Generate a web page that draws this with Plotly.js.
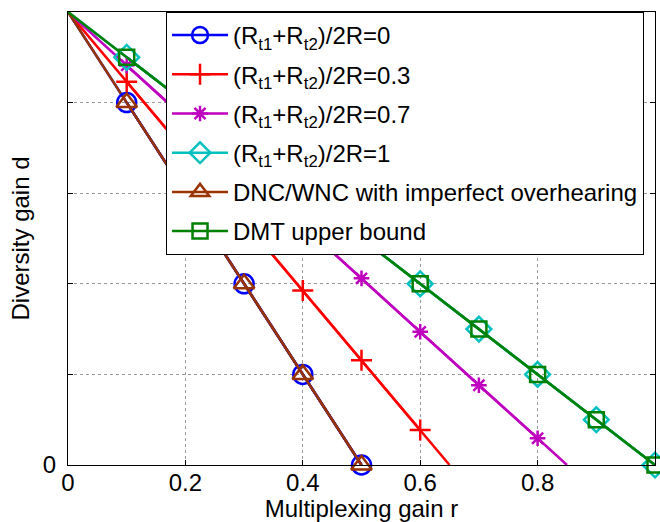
<!DOCTYPE html>
<html><head><meta charset="utf-8">
<script src="https://cdn.plot.ly/plotly-3.0.1.min.js"></script>
<style>body{margin:0;background:#fff}#chart{width:660px;height:522px}</style>
</head><body><div id="chart"></div>
<script>
const seriesNames = ['(R<sub>t1</sub>+R<sub>t2</sub>)/2R=0','(R<sub>t1</sub>+R<sub>t2</sub>)/2R=0.3','(R<sub>t1</sub>+R<sub>t2</sub>)/2R=0.7','(R<sub>t1</sub>+R<sub>t2</sub>)/2R=1','DNC/WNC with imperfect overhearing','DMT upper bound'];
const xBlue = [0,0.1,0.2,0.3,0.4,0.5];
const yBlue = [1,0.8,0.6,0.4,0.2,0];
const xRed = [0,0.1,0.2,0.3,0.4,0.5,0.6,0.65];
const yRed = [1,0.846,0.692,0.538,0.385,0.231,0.077,0];
const xPurple = [0,0.1,0.2,0.3,0.4,0.5,0.6,0.7,0.8,0.85];
const yPurple = [1,0.882,0.765,0.647,0.529,0.412,0.294,0.176,0.059,0];
const xCyan = [0,0.1,0.2,0.3,0.4,0.5,0.6,0.7,0.8,0.9,1];
const yCyan = [1,0.9,0.8,0.7,0.6,0.5,0.4,0.3,0.2,0.1,0];
const xBrown = [0,0.1,0.2,0.3,0.4,0.5];
const yBrown = [1,0.8,0.6,0.4,0.2,0];
const xGreen = [0,0.1,0.2,0.3,0.4,0.5,0.6,0.7,0.8,0.9,1];
const yGreen = [1,0.9,0.8,0.7,0.6,0.5,0.4,0.3,0.2,0.1,0];
const xTicks = [0,0.2,0.4,0.6,0.8,1];
const xTickText = ['0','0.2','0.4','0.6','0.8','1'];
const yTicks = [0,0.2,0.4,0.6,0.8,1];
const yTickText = ['0','','','','',''];

const specs = [
  {x:xBlue,y:yBlue,color:'#0000ff',symbol:'circle-open',size:19},
  {x:xRed,y:yRed,color:'#ff0000',symbol:'cross-thin-open',size:15},
  {x:xPurple,y:yPurple,color:'#bf00bf',symbol:'asterisk-open',size:13},
  {x:xCyan,y:yCyan,color:'#00bfbf',symbol:'diamond-open',size:19},
  {x:xBrown,y:yBrown,color:'#993300',symbol:'triangle-up-open',size:18},
  {x:xGreen,y:yGreen,color:'#008000',symbol:'square-open',size:15}
];
const traces = [];
specs.forEach((s,i)=>{
  traces.push({x:s.x,y:s.y,mode:'lines',type:'scatter',showlegend:false,hoverinfo:'skip',
    line:{color:s.color,width:2.5},cliponaxis:false});
});
specs.forEach((s,i)=>{
  const mx=[],my=[];
  s.x.forEach((v,j)=>{ if(v>0 && Math.abs(v*10-Math.round(v*10))<1e-6){mx.push(v);my.push(s.y[j]);} });
  traces.push({x:mx,y:my,mode:'lines+markers',type:'scatter',name:seriesNames[i],legendgroup:'g'+i,
    line:{color:s.color,width:2.5},cliponaxis:false,
    marker:{symbol:s.symbol,size:s.size,color:s.color,line:{color:s.color,width:2.5}}});
});
const layout = {
  width:660,height:522,
  margin:{l:68,r:5,t:12,b:57},
  paper_bgcolor:'#fff',plot_bgcolor:'#fff',
  font:{family:'Liberation Sans, Arial, sans-serif',size:24,color:'#000'},
  showlegend:true,
  legend:{x:0.167,y:1,xanchor:'left',yanchor:'top',bgcolor:'#fff',bordercolor:'#000',borderwidth:1,
    font:{size:24},itemwidth:56,tracegroupgap:5},
  xaxis:{range:[0,1],tickvals:xTicks,ticktext:xTickText,ticks:'inside',ticklen:5,tickcolor:'#000',
    showline:true,linecolor:'#000',linewidth:1,mirror:'ticks',showgrid:true,gridcolor:'#999',griddash:'dot',gridwidth:1,
    zeroline:false,ticklabelstandoff:-4,title:{text:'Multiplexing gain r',standoff:0,font:{size:24}},tickfont:{size:24}},
  yaxis:{range:[0,1],tickvals:yTicks,ticktext:yTickText,ticks:'inside',ticklen:5,tickcolor:'#000',
    showline:true,linecolor:'#000',linewidth:1,mirror:'ticks',showgrid:true,gridcolor:'#999',griddash:'dot',gridwidth:1,
    zeroline:false,ticklabelstandoff:6,title:{text:'Diversity gain d',standoff:6,font:{size:24}},tickfont:{size:24}}
};
Plotly.newPlot('chart',traces,layout,{displayModeBar:false,staticPlot:true});
</script></body></html>
